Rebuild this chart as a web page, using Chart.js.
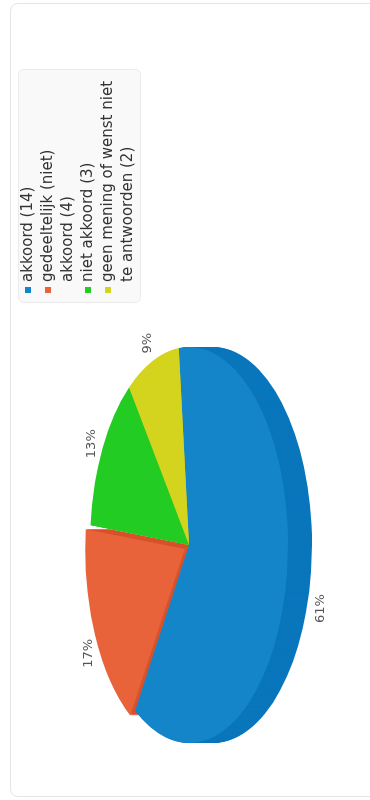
<!DOCTYPE html>
<html>
<head>
<meta charset="utf-8">
<script src="https://cdn.jsdelivr.net/npm/chart.js@4/dist/chart.umd.min.js"></script>
<style>
  html, body { margin: 0; padding: 0; background: #fff; overflow: hidden; }
  /* the whole chart is drawn lying on its side, as in the reference */
  #wrap {
    position: absolute; left: 0; top: 0;
    width: 800px; height: 440px;
    transform-origin: 0 0;
    transform: translate(0, 800px) rotate(-90deg);
  }
  #card {
    position: absolute; left: 3px; top: 10px; width: 794px; height: 420px;
    border: 1px solid #e4e4e4; border-radius: 8px; box-sizing: border-box;
  }
  #pie { position: absolute; left: 0; top: 0; }
</style>
</head>
<body>
<div id="wrap">
  <div id="card"></div>
  <canvas id="pie" width="800" height="440"></canvas>
</div>
<script>
// =====================================
// Data
// =====================================
// multi-line labels, the way the legend wraps them
const categories = [
    ["akkoord"],
    ["gedeeltelijk (niet)", "akkoord"],
    ["niet akkoord"],
    ["geen mening of wenst niet", "te antwoorden"]
];
const counts = [14, 4, 3, 2];
const topColors = ["#1585c9", "#e8623a", "#22cc22", "#d4d41e"];
const sideColors = ["#0976bc", "#d9522b", "#1cbb1c", "#c4c418"];

// ellipse the pie is squashed onto (in unrotated canvas pixels)
const CX = 255, CY = 189, RX = 198, RY = 99, DEPTH = 24;
const total = counts.reduce((a, b) => a + b, 0);

function tilt(chart, ctx) {
    const arc = chart.getDatasetMeta(0).data[0];
    const r = arc.outerRadius;
    ctx.translate(CX, CY);
    ctx.scale(RX / r, RY / r);
    ctx.translate(-arc.x, -arc.y);
}

// fake 3d: darker copies stacked under the top face
const pie3d = {
    id: "pie3d",
    beforeDatasetsDraw(chart) {
        const ctx = chart.ctx;
        const arcs = chart.getDatasetMeta(0).data;
        for (let d = DEPTH; d >= 1; d--) {
            ctx.save();
            ctx.translate(0, d);
            tilt(chart, ctx);
            arcs.forEach((arc, i) => {
                const keep = arc.options;
                arc.options = Object.assign({}, keep, { backgroundColor: sideColors[i] });
                arc.draw(ctx);
                arc.options = keep;
            });
            ctx.restore();
        }
        ctx.save();
        tilt(chart, ctx);
    },
    afterDatasetsDraw(chart) {
        chart.ctx.restore();
    },
    afterDraw(chart) {
        const ctx = chart.ctx;
        const arcs = chart.getDatasetMeta(0).data;

        // percentage labels
        ctx.save();
        ctx.font = "13px 'DejaVu Sans'";
        ctx.fillStyle = "#555";
        ctx.textAlign = "center";
        ctx.textBaseline = "middle";
        arcs.forEach((arc, i) => {
            const mid = (arc.startAngle + arc.endAngle) / 2;
            const s = Math.sin(mid);
            const x = CX - 10 + (RX + 30) * Math.cos(mid);
            const y = CY + (RY + 12) * s + (s > 0 ? DEPTH * s : 0);
            ctx.fillText(Math.round(counts[i] / total * 100) + "%", x, y);
        });
        ctx.restore();

        // legend box
        ctx.save();
        const bx = 497, by = 18, bw = 233, bh = 122;
        ctx.beginPath();
        ctx.roundRect(bx + 0.5, by + 0.5, bw, bh, 5);
        ctx.fillStyle = "#f9f9f9";
        ctx.fill();
        ctx.strokeStyle = "#ebebeb";
        ctx.stroke();

        ctx.font = "15px 'DejaVu Sans'";
        ctx.textBaseline = "middle";
        let y = 28;
        categories.forEach((lines, i) => {
            const text = lines.slice();
            text[text.length - 1] += " (" + counts[i] + ")";
            ctx.fillStyle = topColors[i];
            ctx.fillRect(507, y - 3, 6, 6);
            ctx.fillStyle = "#333";
            text.forEach((l, k) => ctx.fillText(l, 518, y + k * 20));
            y += text.length * 20;
        });
        ctx.restore();
    }
};

// =====================================
// Pie
// =====================================
new Chart(document.getElementById("pie"), {
    type: "pie",
    data: {
        labels: categories,
        datasets: [{
            data: counts,
            backgroundColor: topColors,
            borderWidth: 0,
            offset: [0, 34, 0, 0],
            clip: false
        }]
    },
    options: {
        responsive: false,
        animation: false,
        rotation: 84,
        layout: { padding: { left: 57, right: 347, top: 20, bottom: 24 } },
        plugins: {
            legend: { display: false },
            tooltip: { enabled: false }
        }
    },
    plugins: [pie3d]
});
</script>
</body>
</html>
